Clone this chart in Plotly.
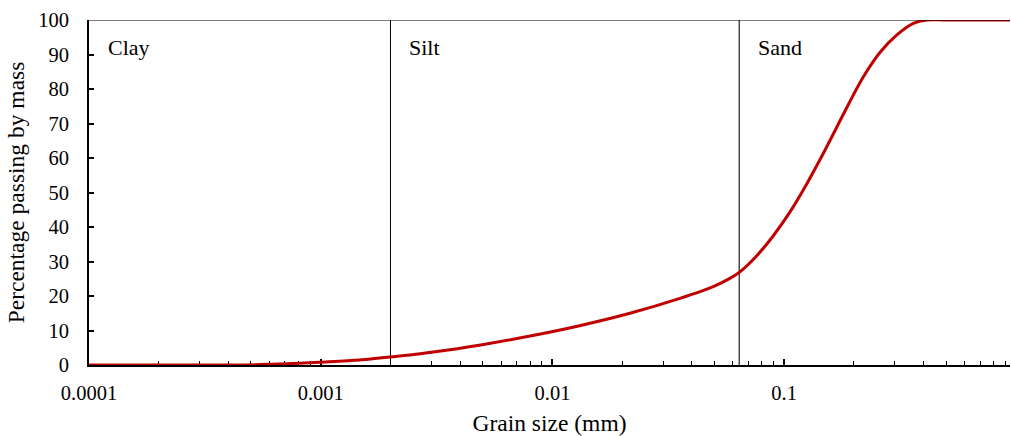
import math
import plotly.graph_objects as go

# Grain size distribution (mm) vs percentage passing
grain_size = [0.0001, 0.0002, 0.00042, 0.0006, 0.00081, 0.00099, 0.00147, 0.0018,
              0.002, 0.003, 0.0049, 0.008, 0.0131, 0.0216, 0.0355, 0.0494, 0.0583,
              0.0644, 0.0760, 0.0896, 0.1058, 0.1249, 0.1474, 0.1859, 0.2194,
              0.2589, 0.3056, 0.3606, 0.412, 0.5, 0.7, 0.95]
passing = [0, 0, 0, 0.2, 0.5, 0.8, 1.45, 2.05,
           2.3, 3.7, 5.8, 8.4, 11.4, 15.0, 19.3, 22.7, 25.1,
           27.0, 31.6, 37.4, 44.3, 52.4, 61.3, 74.5, 83.5,
           90.6, 95.6, 99.0, 100, 100, 100, 100]

boundaries = [0.002, 0.064]
zone_labels = ["Clay", "Silt", "Sand"]
zone_starts = [0.0001, 0.002, 0.064]

tick_vals = [0.0001, 0.001, 0.01, 0.1]
tick_text = ["0.0001", "0.001", "0.01", "0.1"]
minor_vals = [m * 10 ** e for e in range(-4, 0) for m in range(2, 10)]

FONT = "Liberation Serif, Times New Roman, serif"

fig = go.Figure()

for i, b in enumerate(boundaries):
    fig.add_trace(go.Scatter(
        x=[b, b], y=[0, 100], mode="lines",
        line=dict(color="black" if i == 0 else "#4a4a4a", width=1 if i == 0 else 1.5),
        hoverinfo="skip", showlegend=False))

fig.add_trace(go.Scatter(
    x=grain_size, y=passing, mode="lines",
    line=dict(color="#C00000", width=3, shape="spline", smoothing=1.0),
    cliponaxis=False, showlegend=False))

for lab, xs in zip(zone_labels, zone_starts):
    fig.add_annotation(x=math.log10(xs), y=92, text=lab, showarrow=False,
                       xanchor="left", yanchor="middle", xshift=17,
                       font=dict(family=FONT, size=22, color="black"))

fig.add_shape(type="line", xref="paper", x0=0, x1=1, yref="y", y0=100, y1=100,
              line=dict(color="black", width=1))

fig.update_layout(
    width=1011, height=436,
    margin=dict(l=89, r=1, t=20, b=71),
    plot_bgcolor="white", paper_bgcolor="white",
    font=dict(family=FONT, size=20.5, color="black"),
    xaxis=dict(
        type="log", range=[-4, -0.0255],
        tickvals=tick_vals, ticktext=tick_text,
        ticks="inside", ticklen=6, tickwidth=1.5, tickcolor="black",
        ticklabelstandoff=8,
        minor=dict(tickvals=minor_vals, ticks="inside", ticklen=4, tickwidth=1.2, tickcolor="black"),
        showline=True, linecolor="black", linewidth=2,
        showgrid=False, zeroline=False, layer="below traces",
        title=dict(text="Grain size (mm)", font=dict(size=23.5), standoff=12),
        automargin=False,
    ),
    yaxis=dict(
        range=[0, 100], dtick=10,
        ticks="inside", ticklen=5, tickwidth=1.5, tickcolor="black",
        ticklabelstandoff=14,
        showline=True, linecolor="black", linewidth=2,
        showgrid=False, zeroline=False, layer="below traces",
        title=dict(text="Percentage passing by mass", font=dict(size=23.5), standoff=7),
        automargin=False,
    ),
)

fig.write_html("out.html")
